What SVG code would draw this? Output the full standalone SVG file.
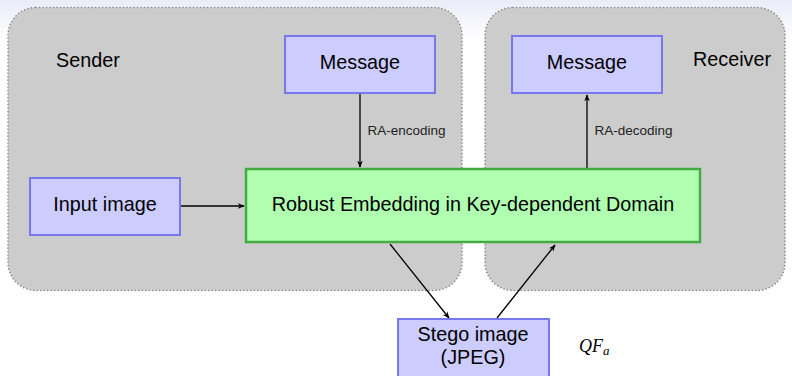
<svg xmlns="http://www.w3.org/2000/svg" width="792" height="376" viewBox="0 0 792 376">
<defs>
<linearGradient id="bg" x1="0" y1="0" x2="0" y2="1">
<stop offset="0" stop-color="#ebebf9"/>
<stop offset="1" stop-color="#ffffff"/>
</linearGradient>
<marker id="ah" viewBox="0 0 10 10" refX="9" refY="5" markerWidth="7" markerHeight="7" markerUnits="userSpaceOnUse" orient="auto">
<path d="M0,1 L10,5 L0,9 L3,5 Z" fill="#000"/>
</marker>
<style>
.region{fill:#cccccc;stroke:#888;stroke-width:1.6;stroke-dasharray:0.1 3.4;stroke-linecap:round}
.blue{fill:#ccccff;stroke:#7777ee;stroke-width:2}
.green{fill:#b0ffb0;stroke:#44aa44;stroke-width:2.5}
.t{font-family:"Liberation Sans",Arial,sans-serif;fill:#000}
.big{font-size:19.8px}
.small{font-size:13.5px;fill:#222}
.conn{stroke:#000;stroke-width:1.3;fill:none;marker-end:url(#ah)}
</style>
</defs>
<rect x="0" y="0" width="792" height="40" fill="url(#bg)"/>
<g id="sender"><rect class="region" x="8" y="7.5" width="454" height="283" rx="28"/><text class="t big" x="56" y="66.5">Sender</text></g>
<g id="receiver"><rect class="region" x="485" y="7.5" width="300" height="283" rx="28"/><text class="t big" x="693" y="66">Receiver</text></g>
<g id="connectors">
<line class="conn" x1="360" y1="94" x2="360" y2="167"/>
<line class="conn" x1="587" y1="168" x2="587" y2="95"/>
<line class="conn" x1="181" y1="206" x2="244" y2="206"/>
<line class="conn" x1="390" y1="244" x2="449" y2="318"/>
<line class="conn" x1="497" y1="318" x2="555" y2="245"/>
<text class="t small" x="367.5" y="135">RA-encoding</text>
<text class="t small" x="594.5" y="135">RA-decoding</text>
</g>
<g id="msg_send"><rect class="blue" x="285" y="36" width="150" height="57"/><text class="t big" x="360" y="69" text-anchor="middle">Message</text></g>
<g id="msg_recv"><rect class="blue" x="512" y="36" width="150" height="57"/><text class="t big" x="587" y="69" text-anchor="middle">Message</text></g>
<g id="input"><rect class="blue" x="30" y="178" width="150" height="57"/><text class="t big" x="105" y="211" text-anchor="middle">Input image</text></g>
<g id="embed"><rect class="green" x="246" y="169" width="454" height="73"/><text class="t big" x="473" y="211" text-anchor="middle">Robust Embedding in Key-dependent Domain</text></g>
<g id="stego"><rect class="blue" x="398" y="319" width="151" height="62"/><text class="t big" x="473" y="341" text-anchor="middle">Stego image</text><text class="t big" x="473" y="364" text-anchor="middle">(JPEG)</text></g>
<text x="579" y="352" font-family="'Liberation Serif','DejaVu Serif',serif" font-style="italic" font-size="18">QF<tspan font-size="13" dy="3">a</tspan></text>
</svg>
